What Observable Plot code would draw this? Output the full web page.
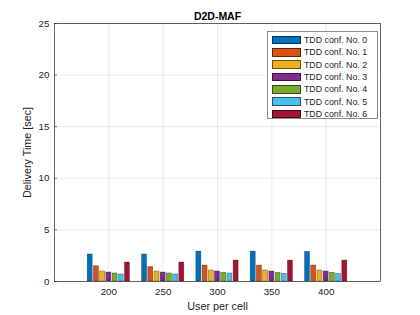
<!DOCTYPE html>
<html><head><meta charset="utf-8">
<script src="https://cdn.jsdelivr.net/npm/d3@7"></script>
<script src="https://cdn.jsdelivr.net/npm/@observablehq/plot@0.6"></script>
<style>
body{margin:0;background:#fff;font-family:"Liberation Sans",Arial,sans-serif;}
#wrap{position:relative;width:420px;height:315px;}
#legend{position:absolute;left:267px;top:31px;width:111px;height:88px;border:0.8px solid #8c8c8c;background:#fff;font-size:8.8px;color:#262626;box-sizing:border-box;padding-top:2px;}
.row{display:flex;align-items:center;height:12.3px;}
.sw{width:29px;height:8.5px;margin-left:4px;margin-right:3px;box-sizing:border-box;border:0.6px solid rgba(0,0,0,0.55);}
</style></head>
<body><div id="wrap"><div id="legend"></div></div>
<script>
const users = [200, 250, 300, 350, 400];
const seriesNames = ["TDD conf. No. 0","TDD conf. No. 1","TDD conf. No. 2","TDD conf. No. 3","TDD conf. No. 4","TDD conf. No. 5","TDD conf. No. 6"];
const conf0 = [2.62, 2.62, 2.90, 2.90, 2.87];
const conf1 = [1.48, 1.39, 1.55, 1.55, 1.55];
const conf2 = [0.97, 0.97, 1.07, 1.07, 1.07];
const conf3 = [0.87, 0.87, 0.97, 0.97, 0.97];
const conf4 = [0.78, 0.78, 0.84, 0.84, 0.84];
const conf5 = [0.68, 0.68, 0.78, 0.75, 0.75];
const conf6 = [1.84, 1.84, 2.03, 2.03, 2.03];
const colors = ["#0072BD","#D95319","#EDB120","#7E2F8E","#77AC30","#4DBEEE","#A2142F"];
const yTicks = [0, 5, 10, 15, 20, 25];

const values = [conf0, conf1, conf2, conf3, conf4, conf5, conf6];
const data = [];
seriesNames.forEach((s, k) => users.forEach((u, i) => data.push({users: u, k, series: s, value: values[k][i]})));
const groupW = 40, slot = groupW / seriesNames.length;

const chart = Plot.plot({
  width: 420, height: 315,
  marginLeft: 54, marginRight: 40, marginTop: 23, marginBottom: 34,
  style: {fontFamily: "Liberation Sans, Arial, sans-serif", fontSize: "9.8px", color: "#262626", background: "#fff"},
  x: {domain: [150, 450]},
  y: {domain: [0, 25]},
  color: {domain: seriesNames, range: colors},
  marks: [
    Plot.gridX({ticks: users, stroke: "#e3e3e3", strokeOpacity: 1, strokeWidth: 0.7}),
    Plot.gridY({ticks: yTicks, stroke: "#e3e3e3", strokeOpacity: 1, strokeWidth: 0.7}),
    Plot.rectY(data, {
      x1: d => d.users - groupW / 2 + d.k * slot,
      x2: d => d.users - groupW / 2 + (d.k + 1) * slot,
      y: "value", fill: "series",
      insetLeft: 0.6, insetRight: 0.6,
      stroke: "black", strokeOpacity: 0.45, strokeWidth: 0.6
    }),
    Plot.frame({stroke: "#262626", strokeWidth: 0.7}),
    Plot.axisX({ticks: users, tickFormat: d => String(d), tickSize: -3, tickPadding: 10, stroke: "#262626", strokeWidth: 0.6,
      label: "User per cell", labelAnchor: "center", labelOffset: 28, labelArrow: "none", fill: "#262626", fontSize: 9.8}),
    Plot.axisY({ticks: yTicks, tickSize: -3, tickPadding: 8, stroke: "#262626", strokeWidth: 0.6,
      label: "Delivery Time [sec]", labelAnchor: "center", labelOffset: 31, labelArrow: "none", fill: "#262626", fontSize: 9.8}),
    Plot.text(["D2D-MAF"], {frameAnchor: "top", dy: -11, fontWeight: "bold", fontSize: 10.5, fill: "#000"})
  ]
});
document.getElementById("wrap").prepend(chart);
chart.querySelectorAll("g[aria-label='x-axis label'] text, g[aria-label='y-axis label'] text").forEach(t => t.setAttribute("font-size", "10.8"));

const leg = document.getElementById("legend");
seriesNames.forEach((s, k) => {
  const row = document.createElement("div"); row.className = "row";
  const sw = document.createElement("div"); sw.className = "sw"; sw.style.background = colors[k];
  const t = document.createElement("span"); t.textContent = s;
  row.appendChild(sw); row.appendChild(t); leg.appendChild(row);
});
</script></body></html>
